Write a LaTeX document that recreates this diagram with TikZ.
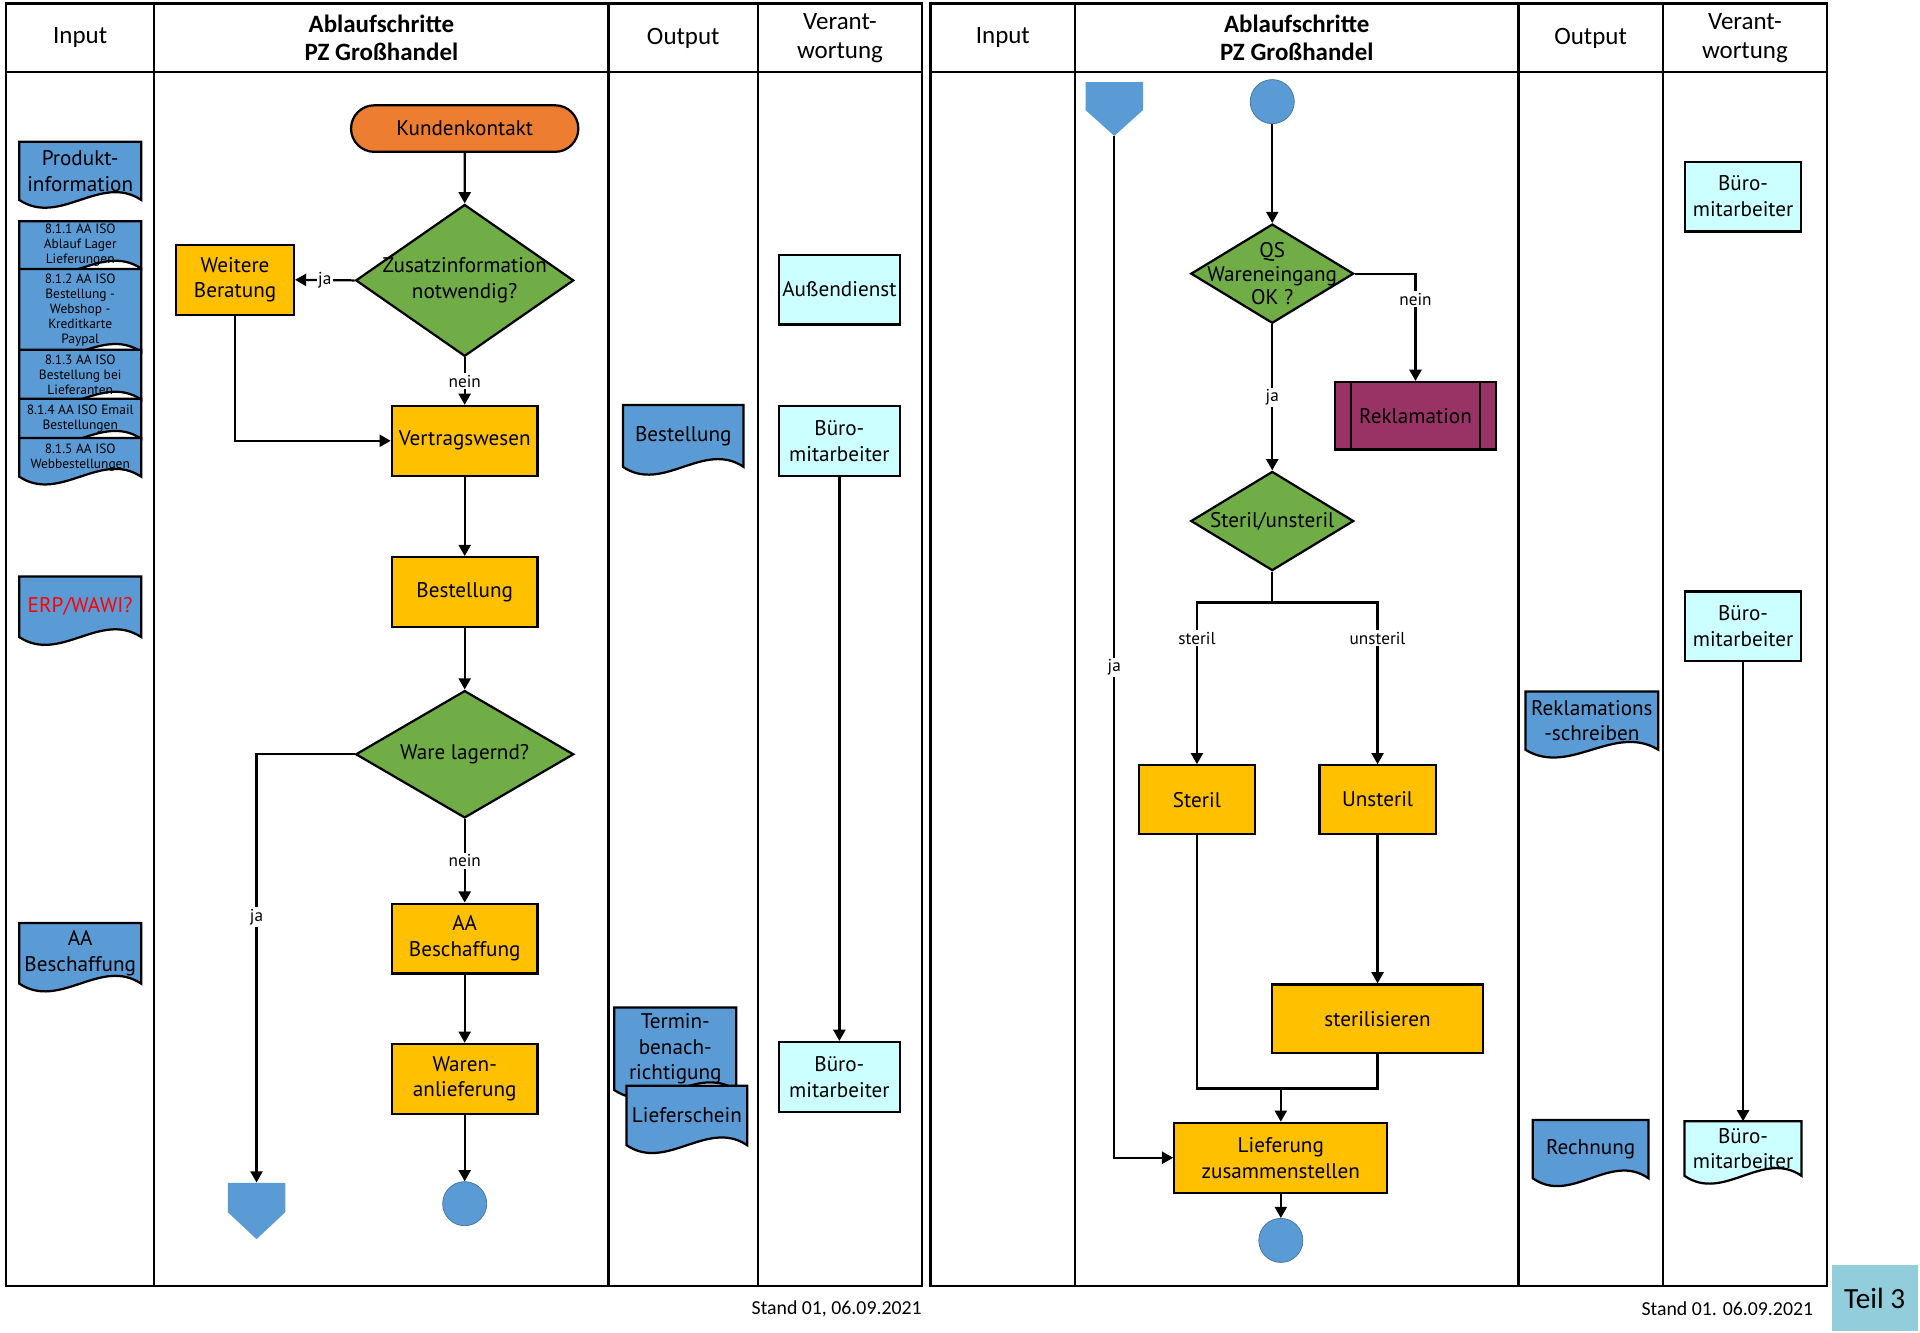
\documentclass[tikz,border=0pt]{standalone}
\usepackage{fontspec}
\setmainfont{Carlito}
\newfontfamily\flowfont{PT Sans}
\usepackage{tikz}
\usetikzlibrary{arrows.meta, positioning, calc, shapes.geometric, shapes.misc}
\pgfdeclarelayer{background}
\pgfsetlayers{background,main}

\newcommand{\nodesize}{\flowfont\fontsize{12.3}{15}\selectfont}
\newcommand{\smallsize}{\flowfont\fontsize{10}{11}\selectfont}
\newcommand{\isosize}{\flowfont\fontsize{7.8}{8.7}\selectfont}
\newcommand{\headsize}{\fontsize{14.5}{16.5}\selectfont}

% Dokument-Symbol mit Welle, hinter dem Text
\newcommand{\docwave}[2]{%
  \begin{pgfonlayer}{background}
    \draw[docline, fill=#2] (#1.north west) -- (#1.north east) -- (#1.south east)
      .. controls ($(#1.south east)!0.333!(#1.south west)+(0,-22)$)
      and ($(#1.south west)!0.333!(#1.south east)+(0,22)$) .. (#1.south west) -- cycle;
  \end{pgfonlayer}}

\begin{document}
\begin{tikzpicture}[x=0.25mm, y=-0.25mm,
    every node/.style={font=\nodesize},
    frameline/.style={line width=1.4pt},
    boxline/.style={draw=black, line width=1.3pt},
    docline/.style={draw=black, line width=1.3pt},
    flow/.style={line width=1.3pt, -{Triangle[length=6.5pt,width=7pt]}},
    plain/.style={line width=1.3pt},
    headtext/.style={font=\headsize, align=center},
    flowlabel/.style={font=\smallsize, fill=white, inner sep=1pt},
    startbox/.style={rounded rectangle, boxline, fill=startorange, minimum width=48.75mm, minimum height=9.5mm},
    procbox/.style={rectangle, boxline, fill=procyellow, align=center, minimum width=29.75mm, minimum height=14.25mm, inner sep=1pt},
    decision/.style={diamond, boxline, fill=decgreen, inner sep=0pt},
    rolebox/.style={rectangle, boxline, fill=rolecyan, align=center, minimum width=24.75mm, minimum height=14.25mm, inner sep=1pt},
    docnode/.style={rectangle, inner sep=0pt, align=center},
    isodoc/.style={docnode, font=\isosize, minimum width=24.75mm},
    endpoint/.style={circle, draw=circleedge, line width=0.4pt, fill=docblue, minimum size=9mm, inner sep=0pt},
    offpage/.style={rectangle, inner sep=0pt, minimum width=11.75mm, minimum height=11.5mm,
      path picture={\fill[docblue] (path picture bounding box.north west) -- (path picture bounding box.north east)
        -- ($(path picture bounding box.north east)!0.52!(path picture bounding box.south east)$)
        -- (path picture bounding box.south)
        -- ($(path picture bounding box.north west)!0.52!(path picture bounding box.south west)$) -- cycle;}},
    subproc/.style={rectangle, boxline, fill=rekpurple, minimum width=33mm, minimum height=13.75mm},
    teilbox/.style={rectangle, fill=teilblue, font=\fontsize{17}{20}\selectfont, minimum width=17.5mm, minimum height=13.5mm},
    standtext/.style={font=\fontsize{11.5}{13}\selectfont, anchor=east, inner sep=0pt}
  ]

  % Farben
  \definecolor{startorange}{RGB}{237,125,49}
  \definecolor{procyellow}{RGB}{255,192,0}
  \definecolor{decgreen}{RGB}{112,173,71}
  \definecolor{docblue}{RGB}{91,155,213}
  \definecolor{rolecyan}{RGB}{204,255,255}
  \definecolor{rekpurple}{RGB}{153,51,102}
  \definecolor{teilblue}{RGB}{146,205,220}
  \definecolor{circleedge}{RGB}{65,113,156}

  \useasboundingbox (0,0) rectangle (1568,1088.6);

  % Linke Tabelle
  \draw[frameline] (5,3) rectangle (753,1050);
  \draw[frameline] (5,59) -- (753,59);
  \foreach \x in {126,497,619} \draw[frameline] (\x,3) -- (\x,1050);
  \node[headtext] (hinL) at (65.5,31) {Input};
  \node[headtext, font={\headsize\bfseries}] (habL) at (311.5,31) {Ablaufschritte\\PZ Großhandel};
  \node[headtext] (houtL) at (558,31) {Output};
  \node[headtext] (hverL) at (686,31) {Verant-\\wortung};

  % Rechte Tabelle
  \draw[frameline] (760,3) rectangle (1492,1050);
  \draw[frameline] (760,59) -- (1492,59);
  \foreach \x in {878,1240,1358} \draw[frameline] (\x,3) -- (\x,1050);
  \node[headtext] (hinR) at (819,31) {Input};
  \node[headtext, font={\headsize\bfseries}] (habR) at (1059,31) {Ablaufschritte\\PZ Großhandel};
  \node[headtext] (houtR) at (1299,31) {Output};
  \node[headtext] (hverR) at (1425,31) {Verant-\\wortung};

  % Input links
  \node[docnode, minimum width=24.75mm, minimum height=11.75mm] (prod) at (65.5,139.5) {Produkt-\\information};
  \docwave{prod}{docblue}
  \node[isodoc, minimum height=9.5mm] (iso1) at (65.5,200) {8.1.1 AA ISO\\Ablauf Lager\\Lieferungen};
  \docwave{iso1}{docblue}
  \node[isodoc, minimum height=16.75mm] (iso2) at (65.5,253.5) {8.1.2 AA ISO\\Bestellung -\\Webshop -\\Kreditkarte\\Paypal};
  \docwave{iso2}{docblue}
  \node[isodoc, minimum height=10mm] (iso3) at (65.5,306) {8.1.3 AA ISO\\Bestellung bei\\Lieferanten};
  \docwave{iso3}{docblue}
  \node[isodoc, minimum height=8mm] (iso4) at (65.5,342) {8.1.4 AA ISO Email\\Bestellungen};
  \docwave{iso4}{docblue}
  \node[isodoc, minimum height=7.75mm] (iso5) at (65.5,373.5) {8.1.5 AA ISO\\Webbestellungen};
  \docwave{iso5}{docblue}
  \node[docnode, minimum width=24.75mm, minimum height=12.25mm, text=red] (erp) at (65.5,495.5) {ERP/WAWI?};
  \docwave{erp}{docblue}
  \node[docnode, minimum width=24.75mm, minimum height=12.25mm] (ainp) at (65.5,778.5) {AA\\Beschaffung};
  \docwave{ainp}{docblue}

  % Ablaufschritte links
  \node[startbox] (kk) at (379.5,105) {Kundenkontakt};
  \node[decision, minimum width=44.5mm, minimum height=31mm,
    label={[align=center]center:{Zusatzinformation\\notwendig?}}] (d1) at (379.5,229) {};
  \node[procbox, minimum width=24mm] (wb) at (192,228.5) {Weitere\\Beratung};
  \node[procbox] (vw) at (379.5,360) {Vertragswesen};
  \node[procbox] (best) at (379.5,483.5) {Bestellung};
  \node[decision, minimum width=44.5mm, minimum height=26mm, label=center:{Ware lagernd?}] (d2) at (379.5,616) {};
  \node[procbox] (aab) at (379.5,766.5) {AA\\Beschaffung};
  \node[procbox] (wan) at (379.5,881) {Waren-\\anlieferung};
  \node[endpoint] (endL) at (379.5,983) {};
  \node[offpage] (offL) at (209.5,989) {};

  \draw[flow] (kk) -- (d1.north);
  \draw[flow] (d1.west) -- node[flowlabel] {ja} (wb.east);
  \draw[flow] (d1.south) -- node[flowlabel] {nein} (vw.north);
  \draw[flow] (wb.south) |- (vw.west);
  \draw[flow] (vw) -- (best);
  \draw[flow] (best) -- (d2.north);
  \draw[flow] (d2.west) -| node[flowlabel, pos=0.69] {ja} (offL.north);
  \draw[flow] (d2.south) -- node[flowlabel] {nein} (aab.north);
  \draw[flow] (aab) -- (wan);
  \draw[flow] (wan) -- (endL);

  % Output links
  \node[docnode, minimum width=24.5mm, minimum height=12.5mm] (bout) at (558,356) {Bestellung};
  \docwave{bout}{docblue}
  \node[docnode, minimum width=24.75mm, minimum height=16.75mm] (termin) at (551.5,856.5) {Termin-\\benach-\\richtigung};
  \docwave{termin}{docblue}
  \node[docnode, minimum width=24.5mm, minimum height=12mm] (liefs) at (561,911) {Lieferschein};
  \docwave{liefs}{docblue}

  % Verantwortung links
  \node[rolebox] (aussen) at (685.5,236.5) {Außendienst};
  \node[rolebox] (bueroA) at (685.5,360) {Büro-\\mitarbeiter};
  \node[rolebox] (bueroB) at (685.5,879.5) {Büro-\\mitarbeiter};
  \draw[flow] (bueroA) -- (bueroB);

  % Ablaufschritte rechts
  \node[offpage, minimum height=11mm] (offR) at (910,89) {};
  \node[endpoint] (startR) at (1039,83) {};
  \node[decision, minimum width=33.25mm, minimum height=20.25mm,
    label={[align=center, font=\flowfont\fontsize{12.3}{13.5}\selectfont]center:{QS\\Wareneingang\\OK ?}}] (qs) at (1039,223.5) {};
  \node[subproc] (rek) at (1156,339.5) {Reklamation};
  \draw[boxline] ($(rek.north west)+(14,0)$) -- ($(rek.south west)+(14,0)$);
  \draw[boxline] ($(rek.north east)+(-14,0)$) -- ($(rek.south east)+(-14,0)$);
  \node[decision, minimum width=33.25mm, minimum height=20.25mm, label=center:{Steril/unsteril}] (su) at (1039,425.5) {};
  \coordinate (split) at (1039,492);
  \node[procbox, minimum width=23.75mm, minimum height=14mm] (st) at (977.5,653) {Steril};
  \node[procbox, minimum width=23.75mm, minimum height=14mm] (ust) at (1125,653) {Unsteril};
  \node[procbox, minimum width=43mm, minimum height=14mm] (steri) at (1125,832) {sterilisieren};
  \coordinate (join) at (1046,889);
  \node[procbox, minimum width=43.5mm] (lief) at (1046,945.5) {Lieferung\\zusammenstellen};
  \node[endpoint] (endR) at (1046,1013) {};

  \draw[flow] (startR) -- (qs.north);
  \draw[flow] (qs.east) -| node[flowlabel, pos=0.62] {nein} (rek.north);
  \draw[flow] (qs.south) -- node[flowlabel] {ja} (su.north);
  \draw[plain] (su.south) -- (split);
  \draw[flow] (split) -| node[flowlabel, pos=0.61] {steril} (st.north);
  \draw[flow] (split) -| node[flowlabel, pos=0.61] {unsteril} (ust.north);
  \draw[flow] (ust) -- (steri);
  \draw[plain] (st.south) |- (join) -| (steri.south);
  \draw[flow] (join) -- (lief.north);
  \draw[flow] (lief) -- (endR);
  \draw[flow] (offR.south) |- node[flowlabel, pos=0.26] {ja} (lief.west);

  % Output rechts
  \node[docnode, minimum width=27mm, minimum height=11.75mm] (reks) at (1300,588.5) {Reklamations\\-schreiben};
  \docwave{reks}{docblue}
  \node[docnode, minimum width=23.5mm, minimum height=11.75mm] (rechn) at (1299,938.5) {Rechnung};
  \docwave{rechn}{docblue}

  % Verantwortung rechts
  \node[rolebox, minimum width=23.75mm] (rbA) at (1423.5,160.5) {Büro-\\mitarbeiter};
  \node[rolebox, minimum width=23.75mm] (rbB) at (1423.5,511.5) {Büro-\\mitarbeiter};
  \node[docnode, minimum width=23.75mm, minimum height=11mm] (rbC) at (1423.5,938) {Büro-\\mitarbeiter};
  \docwave{rbC}{rolecyan}
  \draw[flow] (rbB) -- (rbC);

  % Fusszeile
  \node[standtext] (standL) at (753,1069) {Stand 01, 06.09.2021};
  \node[standtext] (standR) at (1481,1069) {Stand 01. 06.09.2021};
  \node[teilbox] (teil) at (1531,1060) {Teil 3};

\end{tikzpicture}
\end{document}
